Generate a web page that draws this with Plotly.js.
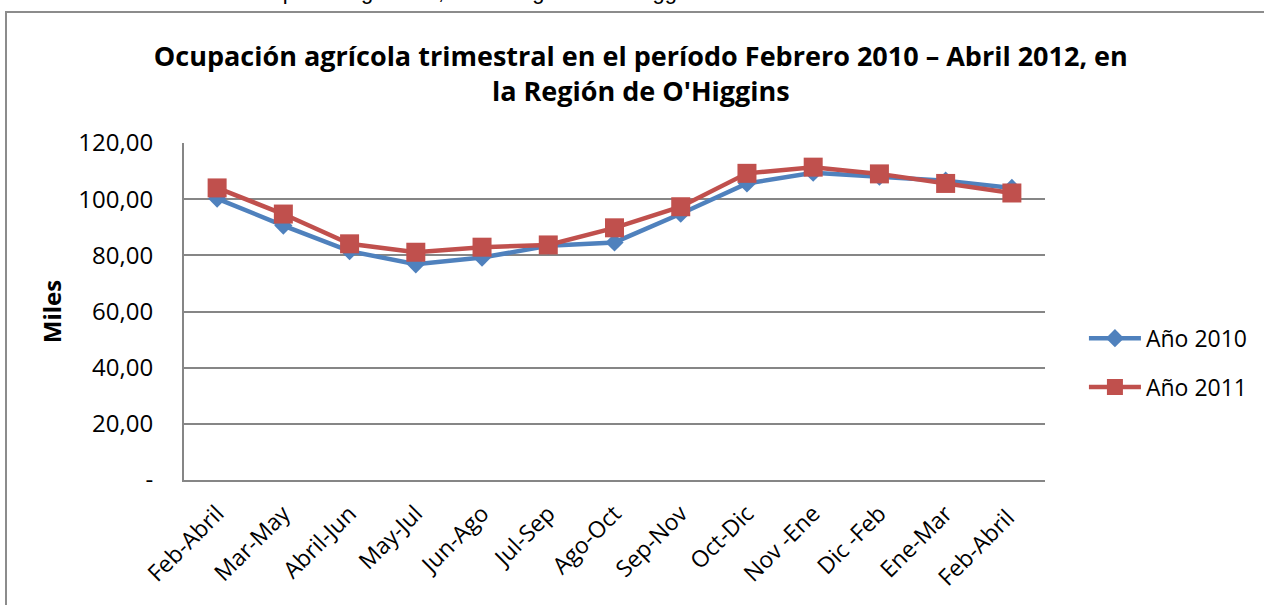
<!DOCTYPE html>
<html>
<head>
<meta charset="utf-8">
<script src="https://cdn.plot.ly/plotly-3.0.1.min.js"></script>
<style>
  html, body { margin:0; padding:0; background:#fff; overflow:hidden; }
  #wrap { position:relative; width:1264px; height:605px; overflow:hidden; background:#fff; }
  #chart { position:absolute; left:0; top:0; width:1264px; height:605px; }
  #frame { position:absolute; left:5px; top:11px; width:1300px; height:700px;
           border:2px solid #8c8c8c; box-sizing:border-box; pointer-events:none; z-index:2; }
  #caption { position:absolute; left:0px; top:-20px; line-height:24px; font-family:Arial, "Liberation Sans", sans-serif;
             font-size:22px; color:#000; white-space:nowrap; z-index:3; }
</style>
</head>
<body>
<div id="wrap">
  <div id="chart"></div>
  <div id="caption">Gráfico N° 4: Número de ocupados agrícolas, en la Región de O'Higgins</div>
  <div id="frame"></div>
</div>
<script>
const categories = ["Feb-Abril","Mar-May","Abril-Jun","May-Jul","Jun-Ago","Jul-Sep","Ago-Oct",
                    "Sep-Nov","Oct-Dic","Nov -Ene","Dic -Feb","Ene-Mar","Feb-Abril "];
const serie2010 = [100.2, 90.6, 81.5, 76.8, 79.2, 83.4, 84.6, 94.8, 105.6, 109.4, 108.0, 106.6, 104.0];
const serie2011 = [104.0, 94.7, 84.1, 81.1, 82.9, 83.7, 89.8, 97.3, 109.2, 111.4, 109.0, 105.6, 102.2];
const seriesNames = ["Año 2010", "Año 2011"];
const yTickVals = [0, 20, 40, 60, 80, 100, 120];
const yTickText = ["-", "20,00", "40,00", "60,00", "80,00", "100,00", "120,00"];

const font = "'Open Sans', Lato, sans-serif";

const traces = [
  { x: categories, y: serie2010, name: seriesNames[0], type: "scatter", mode: "lines+markers",
    legendgroup: "a",
    line: { color: "#4F81BD", width: 4.5 },
    marker: { symbol: "diamond", size: 14, color: "#4F81BD" } },
  { x: categories, y: serie2011, name: seriesNames[1], type: "scatter", mode: "lines+markers",
    legendgroup: "b",
    line: { color: "#C0504D", width: 4.5 },
    marker: { symbol: "square", size: 19, color: "#C0504D" } }
];

const layout = {
  width: 1264, height: 605,
  margin: { l: 184, r: 218, t: 143, b: 125 },
  paper_bgcolor: "#fff", plot_bgcolor: "#fff",
  font: { family: font, size: 20, color: "#000" },
  title: {
    text: "<b>Ocupación agrícola trimestral en el período Febrero 2010 – Abril 2012, en<br>la Región de O'Higgins</b>",
    font: { family: font, size: 27, color: "#000" },
    x: 0.507, xref: "container", xanchor: "center",
    y: 0.891, yref: "container", yanchor: "middle"
  },
  xaxis: {
    type: "category",
    range: [-0.5, 12.5],
    tickangle: -45,
    showgrid: false,
    showline: true, linecolor: "#868686", linewidth: 2,
    ticks: "outside", ticklen: 9, tickcolor: "rgba(0,0,0,0)",
    tickfont: { family: font, size: 23, color: "#000" },
    fixedrange: true
  },
  yaxis: {
    range: [0, 120],
    tickvals: yTickVals, ticktext: yTickText,
    showgrid: true, gridcolor: "#868686", gridwidth: 2,
    showline: true, linecolor: "#868686", linewidth: 2,
    zeroline: false,
    ticks: "outside", ticklen: 24, tickcolor: "rgba(0,0,0,0)",
    tickfont: { family: font, size: 24, color: "#000" },
    title: { text: "<b>Miles</b>", font: { family: font, size: 24, color: "#000" }, standoff: 10 },
    fixedrange: true
  },
  showlegend: true,
  legend: {
    x: 1.044, xanchor: "left", y: 0.348, yanchor: "middle",
    font: { family: font, size: 23, color: "#000" },
    traceorder: "grouped", tracegroupgap: 16,
    itemwidth: 52, bgcolor: "rgba(0,0,0,0)"
  }
};

Plotly.newPlot("chart", traces, layout, { displayModeBar: false, staticPlot: true });
</script>
</body>
</html>
